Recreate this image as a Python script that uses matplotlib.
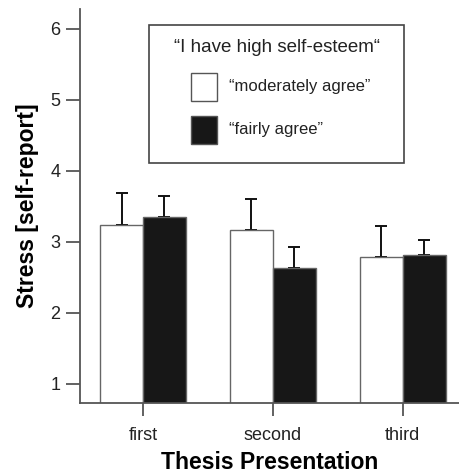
import matplotlib
matplotlib.use('Agg')
import matplotlib.pyplot as plt
import numpy as np
from matplotlib.patches import Rectangle

plt.rcParams['font.family'] = ['Liberation Sans', 'DejaVu Sans']

# data
presentations = ["first", "second", "third"]
moderately_mean = [3.24, 3.17, 2.79]
moderately_err = [0.45, 0.44, 0.44]
fairly_mean = [3.35, 2.63, 2.82]
fairly_err = [0.30, 0.30, 0.21]
legend_labels = ["\u201cmoderately agree\u201d", "\u201cfairly agree\u201d"]
legend_title = "\u201cI have high self-esteem\u201c"

spine_col = '#555555'
white_col = 'white'
black_col = '#171717'
x = np.arange(len(presentations))
w = 0.33
W, H = 460, 476

fig = plt.figure(figsize=(W / 100, H / 100), dpi=100)
ax = fig.add_axes([80 / W, 73 / H, 380 / W, 394 / H])

ax.bar(x - w / 2, moderately_mean, w, color=white_col, edgecolor='#666666', linewidth=1.0, zorder=2)
ax.bar(x + w / 2, fairly_mean, w, color=black_col, edgecolor='#666666', linewidth=1.0, zorder=2)
ax.errorbar(x - w / 2, moderately_mean, yerr=[np.zeros(3), moderately_err], fmt='none',
            ecolor='#111111', elinewidth=1.4, capsize=4, capthick=1.4, zorder=1)
ax.errorbar(x + w / 2, fairly_mean, yerr=[np.zeros(3), fairly_err], fmt='none',
            ecolor='#111111', elinewidth=1.4, capsize=4, capthick=1.4, zorder=1)

ax.set_xlim(-0.485, 2.44)
ax.set_ylim(0.73, 6.28)
ax.set_yticks([1, 2, 3, 4, 5, 6])
ax.set_xticks(x)
ax.set_xticklabels(presentations)

for s in ['top', 'right']:
    ax.spines[s].set_visible(False)
for s in ['left', 'bottom']:
    ax.spines[s].set_color(spine_col)
    ax.spines[s].set_linewidth(1.3)
ax.tick_params(axis='y', length=10, width=1.3, color=spine_col, labelsize=13, pad=4, labelcolor='#222222')
ax.tick_params(axis='x', length=9.5, width=1.3, color=spine_col, labelsize=13, pad=8, labelcolor='#222222')

ax.set_xlabel("Thesis Presentation", fontsize=16.5, fontweight='bold', labelpad=5)
ax.set_ylabel("Stress [self-report]", fontsize=16.5, fontweight='bold', labelpad=8)


# legend box, laid out in figure pixels (top-left origin)
def fx(px):
    return px / W


def fy(py):
    return 1 - py / H


tr = fig.transFigure
fig.patches.append(Rectangle((fx(149), fy(163)), fx(404) - fx(149), fy(25) - fy(163),
                             transform=tr, facecolor='white', edgecolor='#444444', linewidth=1.2, zorder=5))
fig.text(fx(277), fy(48), legend_title, ha='center', va='center', fontsize=13.5, color='#222222', zorder=6)
for i, (lab, col) in enumerate(zip(legend_labels, [white_col, black_col])):
    top = 73 + i * 43
    fig.patches.append(Rectangle((fx(191), fy(top + 28)), fx(217) - fx(191), fy(top) - fy(top + 28),
                                 transform=tr, facecolor=col, edgecolor='#555555', linewidth=1.0, zorder=6))
    fig.text(fx(229), fy(top + 14), lab, ha='left', va='center', fontsize=12, color='#222222', zorder=6)

fig.savefig('out.png', dpi=100)
